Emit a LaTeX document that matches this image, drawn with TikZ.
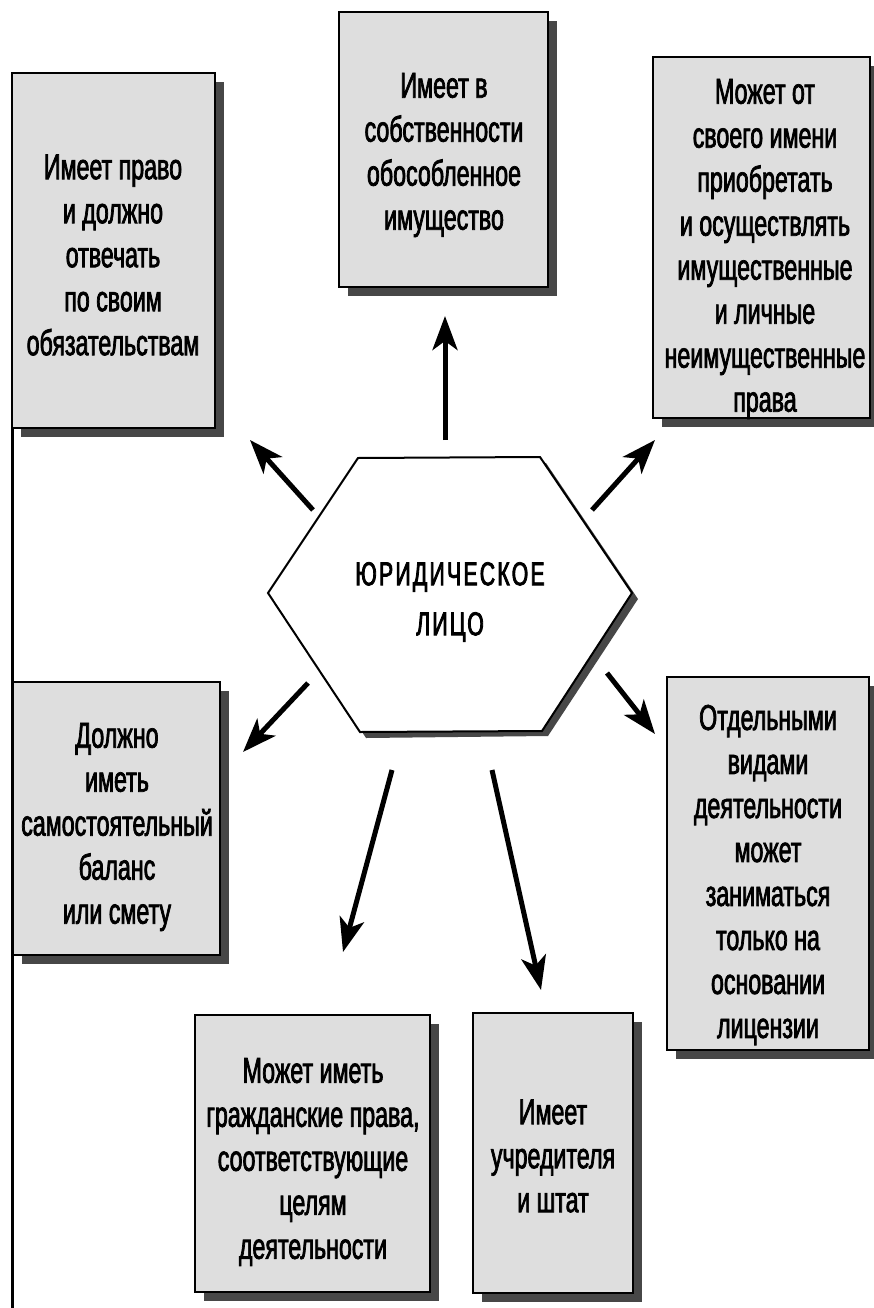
\documentclass[tikz,border=0pt]{standalone}
\usepackage{fontspec}
\setmainfont{Liberation Sans}[FakeStretch=0.645,FakeBold=2]
\newfontfamily\capsfont{Liberation Sans}[FakeStretch=0.64,LetterSpace=7,FakeBold=2.5]
\usetikzlibrary{arrows.meta}
\begin{document}
\begin{tikzpicture}[x=1pt,y=-1pt,
  box/.style={draw=black,line width=2.5pt,fill=black!13,inner sep=0pt},
  txt/.style={align=center,font=\fontsize{36}{44}\selectfont,text=black,inner sep=0pt},
  arr/.style={line width=5pt,-{Stealth[length=34pt,width=25pt,inset=9pt]}}
]
\useasboundingbox (0,0) rectangle (874,1308);
\fill[white] (0,0) rectangle (874,1308);
% left border line
\draw[line width=3pt] (12,76) -- (12,1308);

% boxes: shadow, then box
\newcommand{\mybox}[5]{%
  \fill[black!72] (#2+9,#3+9) rectangle (#4+9,#5+9);
  \node[box,minimum width=#4-#2,minimum height=#5-#3] (#1) at ({(#2+#4)/2},{(#3+#5)/2}) {};
}
\mybox{b1}{12}{73}{215}{428}
\mybox{b2}{339}{12}{548}{287}
\mybox{b3}{653}{57}{870}{418}
\mybox{b4}{13}{682}{220}{955}
\mybox{b5}{667}{677}{869}{1050}
\mybox{b6}{195}{1015}{430}{1292}
\mybox{b7}{473}{1013}{633}{1293}

\node[txt] (t1) at (113,255) {Имеет право\\и должно\\отвечать\\по своим\\обязательствам};
\node[txt] (t2) at (444,155) {Имеет в\\собственности\\обособленное\\имущество};
\node[txt] (t3) at (765,249) {Может от\\своего имени\\приобретать\\и осуществлять\\имущественные\\и личные\\неимущественные\\права};
\node[txt] (t4) at (117,827) {Должно\\иметь\\самостоятельный\\баланс\\или смету};
\node[txt] (t5) at (768,875) {Отдельными\\видами\\деятельности\\может\\заниматься\\только на\\основании\\лицензии};
\node[txt] (t6) at (313,1162) {Может иметь\\гражданские права,\\соответствующие\\целям\\деятельности};
\node[txt] (t7) at (553,1156) {Имеет\\учредителя\\и штат};

% hexagon
\fill[black!72] (364,464) -- (546,463) -- (638,599) -- (548,736) -- (366,738) -- (274,599) -- cycle;
\draw[fill=white,line width=2pt] (358,458) -- (540,457) -- (632,593) -- (542,731) -- (360,732) -- (268,593) -- cycle;
\node[align=center,font=\capsfont\fontsize{33}{50}\selectfont,text=black] (hex) at (450,602) {ЮРИДИЧЕСКОЕ\\ЛИЦО};

% arrow end points
\coordinate (a1s) at (445,440); \coordinate (a1e) at (445,316);
\coordinate (a2s) at (313,510); \coordinate (a2e) at (250,440);
\coordinate (a3s) at (592,510); \coordinate (a3e) at (655,440);
\coordinate (a4s) at (308,683); \coordinate (a4e) at (243,752);
\coordinate (a5s) at (607,673); \coordinate (a5e) at (655,734);
\coordinate (a6s) at (392,770); \coordinate (a6e) at (343,952);
\coordinate (a7s) at (492,770); \coordinate (a7e) at (541,990);
\draw[arr] (a1s) -- (a1e);
\draw[arr] (a2s) -- (a2e);
\draw[arr] (a3s) -- (a3e);
\draw[arr] (a4s) -- (a4e);
\draw[arr] (a5s) -- (a5e);
\draw[arr] (a6s) -- (a6e);
\draw[arr] (a7s) -- (a7e);
\end{tikzpicture}
\end{document}
